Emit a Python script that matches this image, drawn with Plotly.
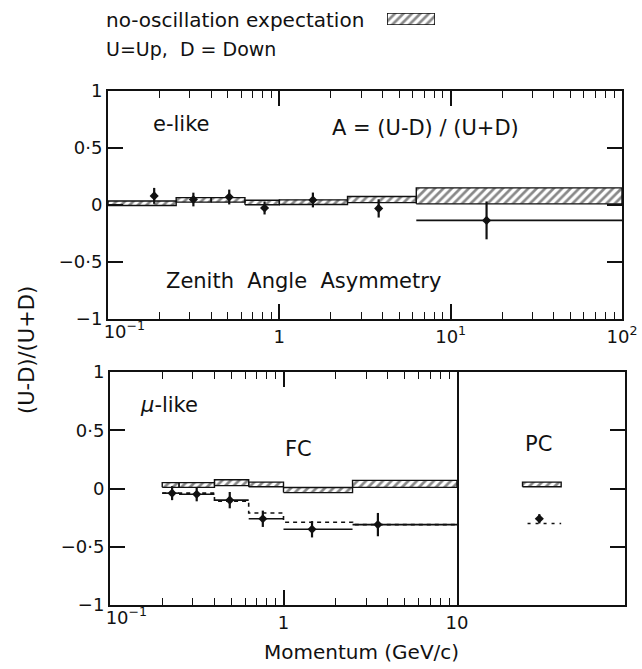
import math
import plotly.graph_objects as go

# ---- e-like (fully contained) zenith-angle asymmetry ----
e_edges = [0.1, 0.25, 0.4, 0.63, 1.0, 2.5, 6.3, 100.0]
e_mom = [0.186, 0.315, 0.51, 0.82, 1.57, 3.8, 16.2]
e_asym = [0.08, 0.048, 0.07, -0.026, 0.044, -0.03, -0.135]
e_err = [0.07, 0.06, 0.065, 0.057, 0.065, 0.08, 0.166]
e_show_bin = [False, False, False, False, False, False, True]
e_mc = [0.015, 0.045, 0.045, 0.022, 0.025, 0.048, 0.08]
e_mc_err = [0.02, 0.02, 0.02, 0.02, 0.02, 0.027, 0.07]

# ---- mu-like, fully contained (FC) ----
mu_edges = [0.2, 0.25, 0.4, 0.63, 1.0, 2.5, 10.0]
mu_mom = [0.228, 0.316, 0.49, 0.76, 1.46, 3.5]
mu_asym = [-0.04, -0.05, -0.10, -0.26, -0.35, -0.31]
mu_err = [0.06, 0.06, 0.07, 0.07, 0.07, 0.10]
mu_show_bin = [True, True, True, True, True, True]
mu_mc = [0.03, 0.03, 0.05, 0.035, -0.013, 0.04]
mu_mc_err = [0.02, 0.02, 0.025, 0.02, 0.022, 0.03]
mu_osc = [-0.04, -0.04, -0.11, -0.21, -0.29, -0.31]

# ---- mu-like, partially contained (PC) ----
pc_asym = [-0.26]
pc_err = [0.04]
pc_mc = [0.035]
pc_mc_err = [0.02]
pc_osc = [-0.30]

# tick labels
x_first_text = "10<sup>−1</sup>"
x_top_vals = [1, 10, 100]
x_top_text = ["1", "10<sup>1</sup>", "10<sup>2</sup>"]
x_bot_vals = [1, 10]
x_bot_text = ["1", "10"]
y_vals = [-1, -0.5, 0, 0.5, 1]
y_text = ["−1", "−0·5", "0", "0·5", "1"]

W, H = 642, 669
FONT = "DejaVu Sans"
INK = "#111111"

# horizontal placement of the single PC bin inside its box (axis units 0..1)
PC_LO, PC_HI, PC_X = 0.39, 0.62, 0.49


def px(x):
    return x / W


def py(y):
    return 1 - y / H


def box_outline(edges, centre, half):
    xs, ys = [], []
    for i in range(len(centre)):
        lo, hi = edges[i], edges[i + 1]
        c, e = centre[i], half[i]
        xs += [lo, hi, hi, lo, lo, None]
        ys += [c - e, c - e, c + e, c + e, c - e, None]
    return xs, ys


def steps(edges, vals):
    xs, ys = [], []
    for i, v in enumerate(vals):
        xs += [edges[i], edges[i + 1]]
        ys += [v, v]
    return xs, ys


hatch = dict(shape="/", fgcolor=INK, bgcolor="white", size=6, solidity=0.45)


def hatched(xs, ys, xa, ya, lw=1.4):
    return go.Scatter(x=xs, y=ys, xaxis=xa, yaxis=ya, mode="lines",
                      fill="toself", fillpattern=hatch, fillcolor="white",
                      line=dict(color=INK, width=lw), hoverinfo="skip")


def points(xv, yv, err, edges, show, xa, ya):
    if edges is not None:
        plus = [(edges[i + 1] - xv[i]) if show[i] else 0 for i in range(len(xv))]
        minus = [(xv[i] - edges[i]) if show[i] else 0 for i in range(len(xv))]
        ex = dict(type="data", symmetric=False, array=plus, arrayminus=minus,
                  color=INK, thickness=1.6, width=0)
    else:
        ex = None
    return go.Scatter(x=xv, y=yv, xaxis=xa, yaxis=ya, mode="markers",
                      marker=dict(symbol="diamond", size=7, color=INK),
                      error_y=dict(type="data", array=err, color=INK,
                                   thickness=2.2, width=0),
                      error_x=ex)


fig = go.Figure()

# e-like panel
bx, by = box_outline(e_edges, e_mc, e_mc_err)
fig.add_trace(hatched(bx, by, "x", "y"))
fig.add_trace(points(e_mom, e_asym, e_err, e_edges, e_show_bin, "x", "y"))

# mu-like FC panel
bx, by = box_outline(mu_edges, mu_mc, mu_mc_err)
fig.add_trace(hatched(bx, by, "x2", "y2"))
sx, sy = steps(mu_edges, mu_osc)
fig.add_trace(go.Scatter(x=sx, y=sy, xaxis="x2", yaxis="y2", mode="lines",
                         line=dict(color=INK, width=1.6, dash="4px,4px")))
fig.add_trace(points(mu_mom, mu_asym, mu_err, mu_edges, mu_show_bin, "x2", "y2"))

# mu-like PC panel
bx, by = box_outline([PC_LO, PC_HI], pc_mc, pc_mc_err)
fig.add_trace(hatched(bx, by, "x3", "y3"))
fig.add_trace(go.Scatter(x=[PC_LO + 0.03, PC_HI], y=pc_osc * 2, xaxis="x3", yaxis="y3",
                         mode="lines", line=dict(color=INK, width=1.6, dash="3px,5px")))
fig.add_trace(points([PC_X], pc_asym, pc_err, None, None, "x3", "y3"))

# key swatch for the hatched band
fig.add_trace(go.Scatter(x=[0, 1, 1, 0, 0], y=[0, 0, 1, 1, 0], xaxis="x4", yaxis="y4",
                         mode="lines", fill="toself", fillpattern=hatch, fillcolor="white",
                         line=dict(color=INK, width=1.6), cliponaxis=False))


def minor_log(lo_dec, hi_dec):
    vals = []
    for d in range(lo_dec, hi_dec):
        for m in range(2, 10):
            vals.append(math.log10(m * 10.0 ** d))
    return vals


# transparent anchors for the minor-tick axes (linear in log10 momentum)
fig.add_trace(go.Scatter(x=[-1, 2], y=[0, 0], xaxis="x5", yaxis="y", mode="markers",
                         marker=dict(opacity=0, size=1), hoverinfo="skip"))
fig.add_trace(go.Scatter(x=[-1, 1], y=[0, 0], xaxis="x6", yaxis="y2", mode="markers",
                         marker=dict(opacity=0, size=1), hoverinfo="skip"))

tickfont = dict(family=FONT, size=18, color=INK)
common_x = dict(type="log", showline=True, linewidth=2, linecolor=INK,
                ticks="inside", ticklen=15, tickwidth=1.5, tickcolor=INK,
                mirror="ticks", showgrid=False, zeroline=False, automargin=False,
                tickmode="array", tickfont=tickfont, tickangle=0,
                ticklabeloverflow="allow")
# minor ticks; this axis also carries the left-most decade label, set to the right of its tick
minor_x = dict(type="linear", showline=False, ticks="inside", ticklen=7, tickwidth=1.3,
               tickcolor=INK, mirror="ticks", showgrid=False, zeroline=False,
               showticklabels=True, tickfont=tickfont, automargin=False, tickmode="array",
               tickangle=0, ticklabelposition="outside right", ticklabelshift=-5,
               ticklabeloverflow="allow")
common_y = dict(range=[-1, 1], showline=True, linewidth=2, linecolor=INK,
                ticks="inside", ticklen=15, tickwidth=1.5, tickcolor=INK,
                showgrid=False, zeroline=False, tickmode="array", automargin=False,
                tickvals=y_vals, ticktext=y_text, tickfont=tickfont)

top_x = [px(108), px(622)]
bot_x = [px(110), px(457)]
top_y = [py(319), py(91)]
bot_y = [py(605), py(372)]

top_minor = minor_log(-1, 2)
bot_minor = minor_log(-1, 1)

fig.update_layout(
    width=W, height=H, autosize=False,
    margin=dict(l=0, r=0, t=0, b=0, pad=0),
    paper_bgcolor="white", plot_bgcolor="white",
    showlegend=False,
    font=dict(family=FONT, color=INK),
    xaxis=dict(common_x, domain=top_x, range=[-1, 2], anchor="y",
               tickvals=x_top_vals, ticktext=x_top_text),
    xaxis5=dict(minor_x, domain=top_x, range=[-1, 2], anchor="y", overlaying="x",
                tickvals=[-1] + top_minor,
                ticktext=[x_first_text] + [" "] * len(top_minor)),
    yaxis=dict(common_y, domain=top_y, anchor="x", mirror="ticks"),
    xaxis2=dict(common_x, domain=bot_x, range=[-1, 1], anchor="y2",
                tickvals=x_bot_vals, ticktext=x_bot_text),
    xaxis6=dict(minor_x, domain=bot_x, range=[-1, 1], anchor="y2", overlaying="x2",
                tickvals=[-1] + bot_minor,
                ticktext=[x_first_text] + [" "] * len(bot_minor)),
    yaxis2=dict(common_y, domain=bot_y, anchor="x2", mirror=True),
    xaxis3=dict(domain=[px(457), px(625)], range=[0, 1], anchor="y3",
                showline=True, linewidth=2, linecolor=INK, mirror=True, automargin=False,
                showticklabels=False, ticks="", showgrid=False, zeroline=False),
    yaxis3=dict(common_y, domain=bot_y, anchor="x3", side="right", mirror=False,
                showticklabels=False),
    xaxis4=dict(domain=[px(387), px(435)], range=[0, 1], anchor="y4", visible=False),
    yaxis4=dict(domain=[py(25), py(13)], range=[0, 1], anchor="x4", visible=False),
)


def label(text, x, y, size=20, anchor="left", angle=0):
    fig.add_annotation(text=text, x=px(x), y=py(y), xref="paper", yref="paper",
                       xanchor=anchor, yanchor="middle", showarrow=False,
                       textangle=angle, font=dict(family=FONT, size=size, color=INK))


label("no-oscillation expectation", 104, 20)
label("U=Up,  D = Down", 104, 49, size=19)
label("e-like", 151, 124, size=21)
label("A = (U-D) / (U+D)", 330, 128, size=21)
label("Zenith  Angle  Asymmetry", 164, 281, size=21)
label("<i>μ</i>-like", 138, 405, size=21)
label("FC", 283, 449, size=21)
label("PC", 523, 444, size=21)
label("(U-D)/(U+D)", 27, 350, size=21, anchor="center", angle=-90)
label("Momentum (GeV/c)", 361, 652, anchor="center")

fig.write_html("out.html")
